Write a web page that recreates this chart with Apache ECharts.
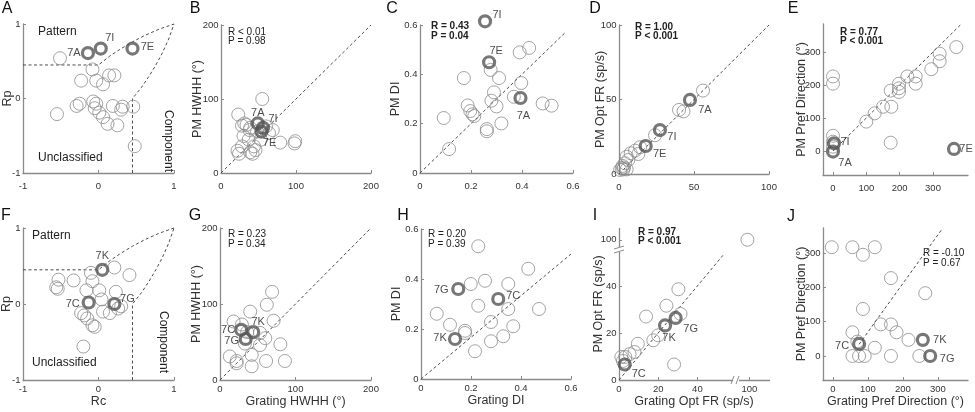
<!DOCTYPE html>
<html><head><meta charset="utf-8">
<script src="https://cdn.jsdelivr.net/npm/echarts@6/dist/echarts.min.js"></script>
<style>html,body{margin:0;padding:0;background:#fff}#c{width:975px;height:412px}</style>
</head><body><div id="c"></div>
<script>
// ---------------- DATA ----------------
// classification boundaries (Rc, Rp)
const boundaryPattern = [[-1,0.45],[0,0.45],[0.15,0.57],[0.3,0.67],[0.45,0.76],[0.6,0.84],[0.8,0.93],[1,1]];
const boundaryComponent = [[0.45,-1],[0.45,0],[0.57,0.15],[0.67,0.3],[0.76,0.45],[0.84,0.6],[0.93,0.8],[1,1]];

// Panel A (Rc, Rp) – top row cells
const A_points = [[-0.51,0.54],[-0.08,0.39],[-0.23,0.24],[-0.03,0.24],[0.06,0.19],[0.14,0.31],[0.21,0.31],
  [-0.55,-0.21],[-0.29,-0.10],[-0.25,-0.07],[-0.07,-0.04],[-0.03,-0.07],[-0.05,-0.13],[0.01,-0.19],
  [0.06,-0.25],[0.12,-0.34],[0.19,-0.10],[0.25,-0.36],[0.30,-0.15],[0.32,-0.11],[0.46,-0.11],[0.48,-0.64]];
const A_examples = [[-0.14,0.61,'7A'],[0.03,0.67,'7I'],[0.45,0.67,'7E']];

// Panel B HWHH
const B_points = [[55,100],[23,79],[28,64],[34,65],[30,50],[38,58],[69,58],[64,54],[79,41],[99,43],[98,40],
  [22,30],[24,26],[28,36],[39,28],[42,26],[44,36],[46,31],[53,45],[37,45],[48,56],[60,63],[31,67],[39,61]];
const B_examples = [[49,67,'7A'],[56,61,'7I'],[54,56,'7E']];

// Panel C DI
const C_points = [[0.391,0.489],[0.428,0.507],[0.172,0.385],[0.277,0.418],[0.31,0.385],[0.397,0.365],[0.29,0.327],
  [0.28,0.293],[0.30,0.27],[0.368,0.309],[0.187,0.274],[0.197,0.251],[0.206,0.238],[0.213,0.231],[0.481,0.282],
  [0.516,0.273],[0.093,0.223],[0.319,0.201],[0.262,0.178],[0.262,0.169],[0.114,0.097]];
const C_examples = [[0.255,0.615,'7I'],[0.271,0.449,'7E'],[0.394,0.304,'7A']];

// Panel D Opt FR
const D_points = [[56,56],[40,43],[43,42],[24,26],[14,18],[10.7,15.7],[7.8,13.9],[12.9,13.4],[5.1,11.6],[6.2,9.4],
  [4,7.2],[2.4,5.4],[0.7,2.7],[3.3,4.3],[5.1,3.1],[1.8,3.8],[2.9,3.1]];
const D_examples = [[47.3,49.7,'7A'],[27.3,29.5,'7I'],[17.8,18.8,'7E']];

// Panel E Pref direction
const E_points = [[0,226],[0,204],[0,46],[0,28],[0,13],[173,25],[100,89],[125,114],[150,134],[175,134],[173,183],
  [198,190],[198,179],[198,204],[223,226],[248,226],[248,204],[295,248],[320,272],[320,295],[370,315]];
const E_examples = [[3,23,'7I'],[0,-2,'7A'],[363,6,'7E']];

// Panel F (Rc, Rp) – bottom row cells
const F_points = [[0.21,0.48],[0.41,0.38],[-0.53,0.32],[-0.56,0.22],[-0.54,0.20],[-0.33,0.31],[-0.1,0.41],[-0.08,0.30],
  [-0.16,0.18],[0.01,0.18],[0.23,0.16],[0.04,0.06],[-0.19,-0.15],[-0.23,-0.12],[-0.15,-0.19],[-0.08,-0.28],
  [-0.05,-0.30],[0.06,-0.10],[0.15,-0.12],[0.26,-0.06],[0.30,-0.03],[-0.2,-0.56]];
const F_examples = [[0.05,0.45,'7K'],[-0.13,0.02,'7C'],[0.21,0.0,'7G']];

// Panel G HWHH
const G_points = [[69,116],[62,99],[40,90],[71,78],[18,77],[29,73],[53,62],[60,55],[53,46],[80,47],[86,25],[61,25],
  [42,33],[42,18],[13,31],[22,25],[22,22],[33,48],[36,63]];
const G_examples = [[28,66,'7C'],[44,63,'7K'],[34,54,'7G']];

// Panel H DI
const H_points = [[0.229,0.531],[0.429,0.441],[0.199,0.38],[0.256,0.393],[0.349,0.38],[0.229,0.293],[0.349,0.28],
  [0.472,0.28],[0.063,0.261],[0.116,0.217],[0.28,0.228],[0.369,0.211],[0.176,0.193],[0.176,0.184],[0.329,0.171],
  [0.28,0.151],[0.216,0.111]];
const H_examples = [[0.149,0.36,'7G'],[0.309,0.32,'7C'],[0.136,0.16,'7K']];

// Panel I Opt FR
const I_points = [[1.2,9.8],[2.0,8.1],[3.2,9.8],[5.4,11.0],[7.9,11.9],[9.6,15.4],[13.8,27.0],[17.5,16.9],[20.0,19.0],
  [24.2,31.6],[30.3,38.6],[31.4,28.1],[28.1,6.6],[99,100]];
const I_examples = [[2.9,6.6,'7C'],[23.5,23.2,'7K'],[28.9,26.4,'7G']];

// Panel J Pref direction
const J_points = [[-3,317],[56,317],[86,295],[120,317],[166,227],[264,183],[86,137],[137,92],[166,92],[182,69],[56,69],
  [216,47],[120,24],[56,0],[75,0],[91,0],[166,0],[247,0],[70,42]];
const J_examples = [[75,35,'7C'],[257,47,'7K'],[278,0,'7G']];

// reference (dashed) lines
const diagHWHH = [[0,0],[200,200]];
const diagDI_C = [[0,0],[0.57,0.57]];
const diagDI_H = [[0,0],[0.6,0.5]];
const diagFR_D = [[0,0],[100,100]];
const diagFR_I = [[0,0],[53,53]];
const diagDir_E = [[0,0],[385,385]];
const diagDir_J = [[75,34],[312,370]];

// tick labels
const ticksR = [-1,0,1];
const ticksHWHH = [0,100,200];
const ticksDI = [0,0.2,0.4,0.6];
const ticksFR_D = [0,50,100];
const ticksFR_I = [0,20,40,100];
const ticksDir = [0,100,200,300];

// stats text
const stats = {
  B:['R < 0.01','P = 0.98'], C:['R = 0.43','P = 0.04'], D:['R = 1.00','P < 0.001'], E:['R = 0.77','P < 0.001'],
  G:['R = 0.23','P = 0.34'], H:['R = 0.20','P = 0.39'], I:['R = 0.97','P < 0.001'], J:['R = -0.10','P = 0.67']
};

// ---------------- STYLE / LAYOUT ----------------
const FONT = '"Liberation Sans", Arial, sans-serif';
const AX = '#8a8a8a';
const labelOffsets = {
  A:{'7A':[-14,0],'7I':[9,-11],'7E':[15,-2]},
  B:{'7A':[0,-10],'7I':[10,-9],'7E':[8,11]},
  C:{'7I':[12,-6],'7E':[7,-11],'7A':[3,18]},
  D:{'7A':[15,10],'7I':[12,7],'7E':[14,8]},
  E:{'7I':[11,-1],'7A':[12,11],'7E':[12,0]},
  F:{'7K':[0,-14],'7C':[-16,1],'7G':[13,-5]},
  G:{'7C':[-13,0],'7K':[5,-10],'7G':[-14,2]},
  H:{'7G':[-17,1],'7C':[15,-3],'7K':[-15,-1]},
  I:{'7G':[15,11],'7K':[4,13],'7C':[14,9]},
  J:{'7C':[-17,2],'7K':[17,0],'7G':[17,3]}
};

const panels = [
  {id:'A', grid:[23,24,151,149], x:{min:-1,max:1,ticks:ticksR}, y:{min:-1,max:1,ticks:ticksR}, yName:'Rp', yGap:9,
   pts:A_points, ex:A_examples, lines:[boundaryPattern,boundaryComponent]},
  {id:'B', grid:[221,25,150,148], x:{min:0,max:200,ticks:ticksHWHH}, y:{min:0,max:200,ticks:ticksHWHH}, yName:'PM HWHH (°)', yGap:17,
   pts:B_points, ex:B_examples, lines:[diagHWHH]},
  {id:'C', grid:[420,25,153,148], x:{min:0,max:0.6,ticks:ticksDI}, y:{min:0,max:0.6,ticks:ticksDI}, yName:'PM DI', yGap:18,
   pts:C_points, ex:C_examples, lines:[diagDI_C]},
  {id:'D', grid:[619,25,150,149], x:{min:0,max:100,ticks:ticksFR_D}, y:{min:0,max:100,ticks:ticksFR_D}, yName:'PM Opt FR (sp/s)', yGap:12,
   pts:D_points, ex:D_examples, lines:[diagFR_D]},
  {id:'E', grid:[823,24,145,151], x:{min:-30,max:405,ticks:ticksDir}, y:{min:-73,max:385,ticks:ticksDir}, yName:'PM Pref Direction (°)', yGap:15,
   pts:E_points, ex:E_examples, lines:[diagDir_E]},
  {id:'F', grid:[23,228,151,152], x:{min:-1,max:1,ticks:ticksR}, y:{min:-1,max:1,ticks:ticksR}, yName:'Rp', yGap:10, xName:'Rc',
   pts:F_points, ex:F_examples, lines:[boundaryPattern,boundaryComponent]},
  {id:'G', grid:[220,228,151,152], x:{min:0,max:200,ticks:ticksHWHH}, y:{min:0,max:200,ticks:ticksHWHH}, yName:'PM HWHH (°)', yGap:17, xName:'Grating HWHH (°)',
   pts:G_points, ex:G_examples, lines:[diagHWHH]},
  {id:'H', grid:[421,229,150,150], x:{min:0,max:0.6,ticks:ticksDI}, y:{min:0,max:0.6,ticks:ticksDI}, yName:'PM DI', yGap:18, xName:'Grating DI',
   pts:H_points, ex:H_examples, lines:[diagDI_H]},
  {id:'I', grid:[619,228,150,152], x:{min:0,max:110,ticks:ticksFR_I,breaks:[{start:58,end:93,gap:'2%'}]},
   y:{min:0,max:105,ticks:ticksFR_I,breaks:[{start:55,end:96,gap:'1%'}]}, yName:'PM Opt FR (sp/s)', yGap:14, xName:'Grating Opt FR (sp/s)',
   pts:I_points, ex:I_examples, lines:[diagFR_I]},
  {id:'J', grid:[823,228,145,152], x:{min:-28,max:386,ticks:ticksDir}, y:{min:-70,max:373,ticks:ticksDir}, yName:'PM Pref Direction (°)', yGap:15, xName:'Grating Pref Direction (°)',
   pts:J_points, ex:J_examples, lines:[diagDir_J]}
];

const grids = [], xAxes = [], yAxes = [], series = [];

function makeAxis(ax, idx, isX, row2, name, gap) {
  const o = {
    type:'value', gridIndex: idx, min: ax.min, max: ax.max,
    axisLine:{show:true, onZero:false, lineStyle:{color:AX, width:1.3}},
    axisTick:{show:true, inside:true, length:3, lineStyle:{color:AX}, customValues: ax.ticks},
    splitLine:{show:false},
    axisLabel:{color:'#333', fontSize:9.5, fontFamily:FONT, margin: isX ? (row2 ? 4 : 8) : 2.5,
      showMinLabel:true, showMaxLabel:true, customValues: ax.ticks},
    nameTextStyle:{color:'#333', fontSize:12.5, fontFamily:FONT},
    nameMoveOverlap:false
  };
  if (name) { o.name = name; o.nameLocation = 'middle'; o.nameGap = gap; }
  if (ax.breaks) { o.breaks = ax.breaks; o.breakArea = {show:false}; }
  return o;
}

panels.forEach((p, i) => {
  const row2 = i >= 5;
  grids.push({left:p.grid[0], top:p.grid[1], width:p.grid[2], height:p.grid[3], outerBoundsMode:'none', containLabel:false});
  xAxes.push(makeAxis(p.x, i, true, row2, p.xName, 15));
  yAxes.push(makeAxis(p.y, i, false, row2, p.yName, p.yGap));
  p.lines.forEach(l => series.push({
    type:'line', xAxisIndex:i, yAxisIndex:i, data:l, symbol:'none', silent:true, clip:false, z:1,
    lineStyle:{color:'#4d4d4d', width:1, type:[3,2.5]}
  }));
  series.push({
    type:'scatter', xAxisIndex:i, yAxisIndex:i, data:p.pts, symbol:'circle', symbolSize:13, clip:false, z:2,
    itemStyle:{color:'rgba(0,0,0,0)', borderColor:'#8c8c8c', borderWidth:1}, emphasis:{disabled:true}
  });
  series.push({
    type:'scatter', xAxisIndex:i, yAxisIndex:i, symbol:'circle', symbolSize:11, clip:false, z:3,
    data:p.ex.map(d => ({value:[d[0],d[1]], name:d[2], label:{offset:labelOffsets[p.id][d[2]]}})),
    itemStyle:{color:'rgba(0,0,0,0)', borderColor:'#555', borderWidth:3.2}, emphasis:{disabled:true},
    label:{show:true, position:'inside', formatter:'{b}', color:'#222', fontSize:11, fontFamily:FONT}
  });
});

function txt(x, y, text, st, extra) {
  return Object.assign({type:'text', x:x, y:y, silent:true,
    style:Object.assign({text:text, fill:'#222', fontSize:12, fontFamily:FONT, align:'left', verticalAlign:'middle'}, st||{})}, extra||{});
}

const letters = [['A',7,9],['B',195,9],['C',392,9],['D',595,9],['E',793,9],
                 ['F',6,216],['G',195,216],['H',403,216],['I',595,216],['J',791,217]];
const graphics = letters.map(l => txt(l[1], l[2], l[0], {fontSize:16, align:'center', fill:'#111'}));

const statPos = {B:[228,32,41,false], C:[431,26,36,true], D:[635,27,36,true], E:[840,32,41,true],
                 G:[228,234,244,false], H:[428,234,244,false], I:[638,232,241,true], J:[923,253,263,false]};
Object.keys(stats).forEach(k => {
  const sp = statPos[k];
  const st = {fontSize:10, fontWeight: sp[3] ? 'bold' : 'normal'};
  graphics.push(txt(sp[0], sp[1], stats[k][0], st));
  graphics.push(txt(sp[0], sp[2], stats[k][1], st));
});

// classification region labels
graphics.push(txt(38, 32, 'Pattern'));
graphics.push(txt(38, 158, 'Unclassified'));
graphics.push(txt(168, 141, 'Component', {align:'center'}, {rotation:-Math.PI/2}));
graphics.push(txt(32, 236, 'Pattern'));
graphics.push(txt(32, 363, 'Unclassified'));
graphics.push(txt(163, 342, 'Component', {align:'center'}, {rotation:-Math.PI/2}));

// axis break marks (panel I)
graphics.push({type:'rect', shape:{x:614,y:247,width:10,height:5}, style:{fill:'#fff'}, z:100, silent:true});
graphics.push({type:'line', shape:{x1:614,y1:249,x2:624,y2:246}, style:{stroke:AX,lineWidth:1}, z:101, silent:true});
graphics.push({type:'line', shape:{x1:614,y1:253,x2:624,y2:250}, style:{stroke:AX,lineWidth:1}, z:101, silent:true});
graphics.push({type:'rect', shape:{x:733,y:375,width:6,height:10}, style:{fill:'#fff'}, z:100, silent:true});
graphics.push({type:'line', shape:{x1:731,y1:384,x2:734,y2:376}, style:{stroke:AX,lineWidth:1}, z:101, silent:true});
graphics.push({type:'line', shape:{x1:736,y1:384,x2:739,y2:376}, style:{stroke:AX,lineWidth:1}, z:101, silent:true});

const chart = echarts.init(document.getElementById('c'), null, {renderer:'canvas'});
chart.setOption({
  animation:false,
  backgroundColor:'#fff',
  textStyle:{fontFamily:FONT},
  grid:grids, xAxis:xAxes, yAxis:yAxes, series:series, graphic:graphics
});
</script></body></html>
